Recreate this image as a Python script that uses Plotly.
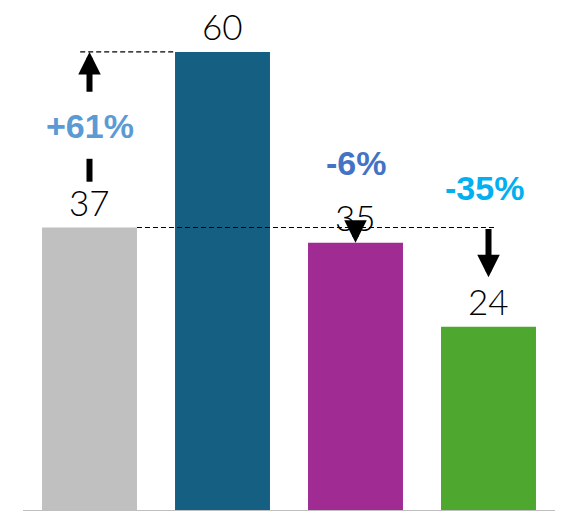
import plotly.graph_objects as go

categories = ["A", "B", "C", "D"]
values = [37, 60, 35, 24]
bar_colors = ["#C0C0C0", "#156082", "#A02B93", "#4EA72E"]
change_labels = ["+61%", "-6%", "-35%"]
change_colors = ["#5B9BD5", "#4472C4", "#00B0F0"]

xs = list(range(len(categories)))
fig = go.Figure()
fig.add_trace(go.Bar(x=xs, y=values, marker_color=bar_colors, marker_line_width=0,
                     hoverinfo="skip"))

ann = []
# value labels
for i, v in enumerate(values):
    ann.append(dict(x=i, y=v, xref="x", yref="y", text=str(v), showarrow=False,
                    yanchor="middle", yshift=26,
                    font=dict(family="Lato", size=35, weight=300, color="#000000")))

base = values[0]
top = values[1]
half = 0.357  # half bar width in category units
# dashed reference lines
shapes = [
    dict(type="line", xref="x", yref="y", x0=-0.07, x1=1 - half, y0=top, y1=top,
         line=dict(color="black", width=1.2, dash="5px,3px")),
    dict(type="line", xref="x", yref="y", x0=half, x1=3.05, y0=base, y1=base,
         line=dict(color="black", width=1.2, dash="5px,3px")),
    # lower part of the up arrow shaft
    dict(type="line", xref="x", yref="y", x0=0, x1=0, y0=43.0, y1=46.0,
         line=dict(color="black", width=6)),
]

# arrows
asz = 0.75
ann.append(dict(x=0, y=top, ax=0, ay=54.6, xref="x", yref="y", axref="x", ayref="y",
                text="", showarrow=True, arrowhead=2, arrowsize=asz, arrowwidth=6,
                arrowcolor="black", standoff=0))
ann.append(dict(x=2, y=values[2], ax=2, ay=base, xref="x", yref="y", axref="x", ayref="y",
                text="", showarrow=True, arrowhead=2, arrowsize=asz, arrowwidth=6,
                arrowcolor="black", standoff=0))
ann.append(dict(x=3, y=30.5, ax=3, ay=base, xref="x", yref="y", axref="x", ayref="y",
                text="", showarrow=True, arrowhead=2, arrowsize=asz, arrowwidth=6,
                arrowcolor="black", standoff=0))

# percentage labels
pct_pos = [(0, 50.3), (2, 45.5), (2.97, 42.2)]
for (px, py), t, c in zip(pct_pos, change_labels, change_colors):
    ann.append(dict(x=px, y=py, xref="x", yref="y", text="<b>" + t + "</b>", showarrow=False,
                    font=dict(family="Liberation Sans", size=34, color=c)))

fig.update_layout(
    width=561, height=511,
    margin=dict(l=23, r=6, t=0, b=1),
    plot_bgcolor="white", paper_bgcolor="white",
    bargap=0.286, showlegend=False,
    annotations=ann, shapes=shapes,
    xaxis=dict(range=[-0.5, 3.5], showticklabels=False, showgrid=False, zeroline=False,
               showline=True, linecolor="#BFBFBF", linewidth=2, ticks=""),
    yaxis=dict(range=[0, 66.8], showticklabels=False, showgrid=False, zeroline=False,
               showline=False, ticks=""),
)
fig.write_html("out.html")
